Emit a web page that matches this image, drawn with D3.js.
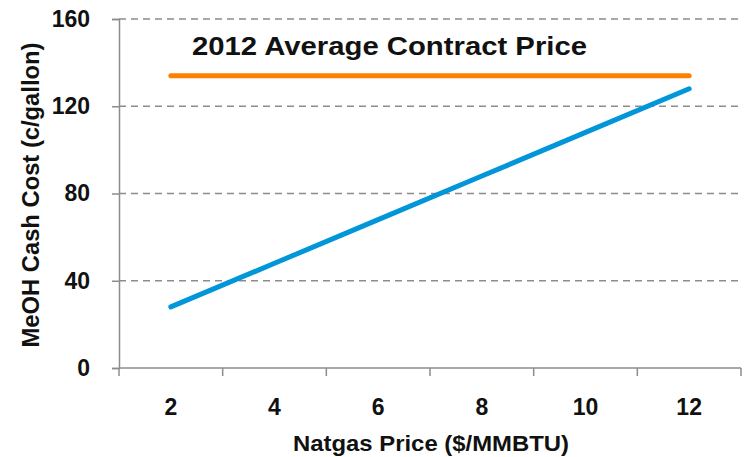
<!DOCTYPE html>
<html>
<head>
<meta charset="utf-8">
<script src="https://cdn.jsdelivr.net/npm/d3@7"></script>
<style>
body { margin: 0; background: #fff; }
text { font-family: "Liberation Sans", Arial, sans-serif; font-weight: bold; fill: #111; }
</style>
</head>
<body>
<svg id="chart" width="744" height="457"></svg>
<script>
// natgas price categories ($/MMBTU)
let categories = ["2", "4", "6", "8", "10", "12"];
// MeOH cash cost, c/gallon
let cashCost = [28, 48, 68, 88, 108, 128];
// 2012 average contract price, c/gallon
let contractPrice = [134, 134, 134, 134, 134, 134];
let yTicks = [0, 40, 80, 120, 160];

let svg = d3.select("svg#chart"),
	plotLeft = 119, plotRight = 741, plotTop = 19, plotBottom = 368;

let x = d3.scaleBand()
	.domain(categories)
	.range([plotLeft, plotRight]);

let y = d3.scaleLinear()
	.domain([0, 160])
	.range([plotBottom, plotTop]);

// dashed gridlines
svg.append("g")
	.selectAll("line")
	.data(yTicks.filter(function(d) { return d > 0; }))
	.enter().append("line")
	.attr("x1", plotLeft)
	.attr("x2", plotRight)
	.attr("y1", function(d) { return y(d); })
	.attr("y2", function(d) { return y(d); })
	.attr("stroke", "#8c8c8c")
	.attr("stroke-width", 1.5)
	.attr("stroke-dasharray", "7,5");

// y axis
let yAxis = svg.append("g")
	.attr("transform", "translate(" + plotLeft + ",0)")
	.call(d3.axisLeft(y).tickValues(yTicks).tickSize(7).tickPadding(22));
yAxis.select(".domain").attr("stroke", "#8c8c8c").attr("stroke-width", 1.5);
yAxis.selectAll(".tick line").attr("stroke", "#8c8c8c").attr("stroke-width", 1.5);
yAxis.selectAll(".tick text")
	.attr("font-size", 23)
	.attr("font-family", null)
	.attr("fill", "#111");

// x axis: ticks between categories
let xAxis = svg.append("g")
	.attr("transform", "translate(0," + plotBottom + ")");
xAxis.append("line")
	.attr("x1", plotLeft).attr("x2", plotRight)
	.attr("stroke", "#8c8c8c").attr("stroke-width", 1.5);
xAxis.selectAll("line.tick")
	.data(categories.map(function(c) { return x(c); }).concat([plotRight]))
	.enter().append("line")
	.attr("class", "tick")
	.attr("x1", function(d) { return d; })
	.attr("x2", function(d) { return d; })
	.attr("y1", 0).attr("y2", 8)
	.attr("stroke", "#8c8c8c").attr("stroke-width", 1.5);
xAxis.selectAll("text")
	.data(categories)
	.enter().append("text")
	.attr("x", function(d) { return x(d) + x.bandwidth() / 2; })
	.attr("y", 47)
	.attr("text-anchor", "middle")
	.attr("font-size", 23)
	.text(function(d) { return d; });

let line = d3.line()
	.x(function(d, i) { return x(categories[i]) + x.bandwidth() / 2; })
	.y(function(d) { return y(d); });

svg.append("path")
	.datum(contractPrice)
	.attr("d", line)
	.attr("fill", "none")
	.attr("stroke", "#ff7f00")
	.attr("stroke-width", 5)
	.attr("stroke-linecap", "round");

svg.append("path")
	.datum(cashCost)
	.attr("d", line)
	.attr("fill", "none")
	.attr("stroke", "#0096d9")
	.attr("stroke-width", 5)
	.attr("stroke-linecap", "round");

// labels
svg.append("text")
	.attr("x", 192)
	.attr("y", 55)
	.attr("font-size", 25)
	.attr("textLength", 395)
	.attr("lengthAdjust", "spacingAndGlyphs")
	.text("2012 Average Contract Price");

svg.append("text")
	.attr("transform", "translate(39,195) rotate(-90)")
	.attr("text-anchor", "middle")
	.attr("font-size", 23)
	.attr("textLength", 305)
	.attr("lengthAdjust", "spacingAndGlyphs")
	.text("MeOH Cash Cost (c/gallon)");

svg.append("text")
	.attr("x", 431)
	.attr("y", 451)
	.attr("text-anchor", "middle")
	.attr("font-size", 22)
	.attr("textLength", 276)
	.attr("lengthAdjust", "spacingAndGlyphs")
	.text("Natgas Price ($/MMBTU)");
</script>
</body>
</html>
